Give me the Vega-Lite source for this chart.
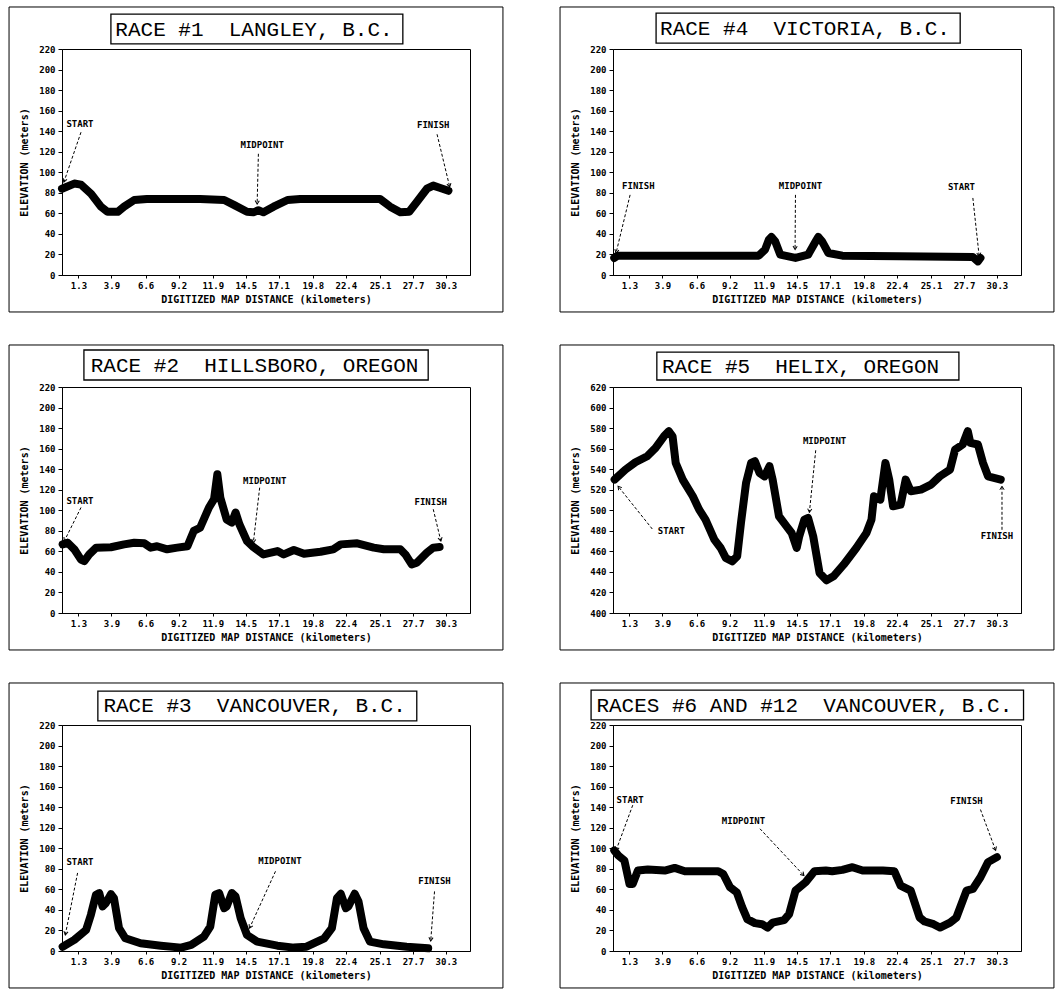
{
"$schema": "https://vega.github.io/schema/vega-lite/v6.json",
"background": "white",
"padding": {"left": 8, "top": 5, "right": 0, "bottom": 3},
"autosize": {"type": "pad"},
"datasets": {
"profile": [
{"race":1,"km":0,"elev":84},{"race":1,"km":0.97,"elev":89},{"race":1,"km":1.5,"elev":88},{"race":1,"km":2.3,"elev":79},{"race":1,"km":3.07,"elev":66.5},{"race":1,"km":3.6,"elev":61.5},{"race":1,"km":4.4,"elev":61.5},{"race":1,"km":4.9,"elev":66.5},{"race":1,"km":5.7,"elev":73},{"race":1,"km":6.7,"elev":74},{"race":1,"km":8.3,"elev":74},{"race":1,"km":10.9,"elev":74},{"race":1,"km":12.8,"elev":73},{"race":1,"km":13.6,"elev":68},{"race":1,"km":14.6,"elev":61.5},{"race":1,"km":15.1,"elev":61},{"race":1,"km":15.5,"elev":63},{"race":1,"km":15.9,"elev":61},{"race":1,"km":16.7,"elev":66.5},{"race":1,"km":17.8,"elev":73},{"race":1,"km":18.8,"elev":74},{"race":1,"km":21.4,"elev":74},{"race":1,"km":25.1,"elev":74},{"race":1,"km":25.9,"elev":66.5},{"race":1,"km":26.7,"elev":61},{"race":1,"km":27.4,"elev":61.5},{"race":1,"km":28.0,"elev":71},{"race":1,"km":28.8,"elev":84},{"race":1,"km":29.3,"elev":87},{"race":1,"km":29.8,"elev":85},{"race":1,"km":30.5,"elev":82},
{"race":4,"km":0.1,"elev":16.6},{"race":4,"km":0.37,"elev":18.8},{"race":4,"km":1.4,"elev":18.8},{"race":4,"km":6.7,"elev":18.8},{"race":4,"km":11.5,"elev":18.8},{"race":4,"km":12.0,"elev":24.7},{"race":4,"km":12.3,"elev":34.4},{"race":4,"km":12.5,"elev":37},{"race":4,"km":12.8,"elev":32.8},{"race":4,"km":13.2,"elev":19.8},{"race":4,"km":14.4,"elev":16.6},{"race":4,"km":15.4,"elev":19.8},{"race":4,"km":16.0,"elev":32.8},{"race":4,"km":16.2,"elev":37},{"race":4,"km":16.5,"elev":32.8},{"race":4,"km":17.0,"elev":21.4},{"race":4,"km":18.1,"elev":18.8},{"race":4,"km":22.6,"elev":18.2},{"race":4,"km":28.4,"elev":17.5},{"race":4,"km":28.8,"elev":13.3},{"race":4,"km":29.0,"elev":16.6},
{"race":2,"km":0.05,"elev":66.8},{"race":2,"km":0.45,"elev":68.4},{"race":2,"km":0.97,"elev":62},{"race":2,"km":1.5,"elev":52},{"race":2,"km":1.76,"elev":50.5},{"race":2,"km":2.15,"elev":57},{"race":2,"km":2.7,"elev":63.6},{"race":2,"km":3.86,"elev":64},{"race":2,"km":4.9,"elev":66.8},{"race":2,"km":5.7,"elev":68.4},{"race":2,"km":6.5,"elev":67.8},{"race":2,"km":7.0,"elev":63.6},{"race":2,"km":7.5,"elev":65},{"race":2,"km":8.3,"elev":62},{"race":2,"km":9.1,"elev":63.6},{"race":2,"km":9.9,"elev":65},{"race":2,"km":10.4,"elev":79.9},{"race":2,"km":10.9,"elev":83},{"race":2,"km":11.6,"elev":102.7},{"race":2,"km":12.0,"elev":110.8},{"race":2,"km":12.26,"elev":135},{"race":2,"km":12.5,"elev":112},{"race":2,"km":13.0,"elev":91},{"race":2,"km":13.4,"elev":88},{"race":2,"km":13.7,"elev":97.8},{"race":2,"km":14.0,"elev":86.4},{"race":2,"km":14.6,"elev":70},{"race":2,"km":15.1,"elev":64.2},{"race":2,"km":15.9,"elev":57},{"race":2,"km":17.0,"elev":60.3},{"race":2,"km":17.5,"elev":57},{"race":2,"km":18.3,"elev":61.3},{"race":2,"km":19.1,"elev":57.7},{"race":2,"km":20.4,"elev":59.6},{"race":2,"km":21.4,"elev":62},{"race":2,"km":22.0,"elev":66.8},{"race":2,"km":23.3,"elev":67.8},{"race":2,"km":24.6,"elev":63.6},{"race":2,"km":25.4,"elev":62},{"race":2,"km":26.7,"elev":62},{"race":2,"km":27.1,"elev":57},{"race":2,"km":27.6,"elev":47.3},{"race":2,"km":28.0,"elev":48.9},{"race":2,"km":28.8,"elev":58.7},{"race":2,"km":29.3,"elev":63.6},{"race":2,"km":29.8,"elev":64.2},
{"race":5,"km":0.13,"elev":529.9},{"race":5,"km":0.98,"elev":539.6},{"race":5,"km":1.77,"elev":546.8},{"race":5,"km":2.7,"elev":552.6},{"race":5,"km":3.36,"elev":560.7},{"race":5,"km":4.02,"elev":572},{"race":5,"km":4.4,"elev":577},{"race":5,"km":4.7,"elev":572},{"race":5,"km":4.95,"elev":546},{"race":5,"km":5.5,"elev":529.9},{"race":5,"km":6.3,"elev":513.6},{"race":5,"km":6.8,"elev":500.6},{"race":5,"km":7.3,"elev":490.9},{"race":5,"km":8.0,"elev":471.4},{"race":5,"km":8.5,"elev":463.3},{"race":5,"km":8.9,"elev":453.6},{"race":5,"km":9.4,"elev":450.3},{"race":5,"km":9.8,"elev":455.2},{"race":5,"km":10.1,"elev":487.7},{"race":5,"km":10.5,"elev":526.6},{"race":5,"km":10.9,"elev":546.1},{"race":5,"km":11.2,"elev":547.7},{"race":5,"km":11.56,"elev":536.4},{"race":5,"km":11.96,"elev":533},{"race":5,"km":12.35,"elev":542.9},{"race":5,"km":12.6,"elev":529.9},{"race":5,"km":13.1,"elev":494.2},{"race":5,"km":13.7,"elev":484.4},{"race":5,"km":14.1,"elev":477.9},{"race":5,"km":14.5,"elev":463.3},{"race":5,"km":14.7,"elev":474.7},{"race":5,"km":15.1,"elev":490.9},{"race":5,"km":15.4,"elev":492.5},{"race":5,"km":15.8,"elev":474.7},{"race":5,"km":16.3,"elev":439},{"race":5,"km":16.85,"elev":431.8},{"race":5,"km":17.4,"elev":435.7},{"race":5,"km":18.2,"elev":447},{"race":5,"km":19.2,"elev":463.3},{"race":5,"km":20.0,"elev":477.9},{"race":5,"km":20.4,"elev":490.9},{"race":5,"km":20.6,"elev":513.6},{"race":5,"km":21.1,"elev":510.4},{"race":5,"km":21.5,"elev":546.1},{"race":5,"km":21.8,"elev":529.9},{"race":5,"km":22.1,"elev":503.9},{"race":5,"km":22.7,"elev":505.5},{"race":5,"km":23.1,"elev":529.9},{"race":5,"km":23.5,"elev":518.5},{"race":5,"km":24.3,"elev":520.1},{"race":5,"km":25.1,"elev":525},{"race":5,"km":25.8,"elev":533.1},{"race":5,"km":26.6,"elev":539.6},{"race":5,"km":27.0,"elev":559.1},{"race":5,"km":27.6,"elev":564},{"race":5,"km":28.0,"elev":577},{"race":5,"km":28.2,"elev":565.6},{"race":5,"km":28.8,"elev":564},{"race":5,"km":29.2,"elev":546.1},{"race":5,"km":29.6,"elev":533.1},{"race":5,"km":30.6,"elev":529.9},
{"race":3,"km":0.05,"elev":4.2},{"race":3,"km":0.97,"elev":10.8},{"race":3,"km":1.9,"elev":20.5},{"race":3,"km":2.28,"elev":35.2},{"race":3,"km":2.68,"elev":54.8},{"race":3,"km":2.94,"elev":56.4},{"race":3,"km":3.2,"elev":43.4},{"race":3,"km":3.46,"elev":46.6},{"race":3,"km":3.86,"elev":55.4},{"race":3,"km":4.1,"elev":51.5},{"race":3,"km":4.5,"elev":22.2},{"race":3,"km":5.0,"elev":12.4},{"race":3,"km":6.2,"elev":7.5},{"race":3,"km":7.8,"elev":5.2},{"race":3,"km":9.4,"elev":3.3},{"race":3,"km":10.2,"elev":5.9},{"race":3,"km":11.2,"elev":14},{"race":3,"km":11.7,"elev":23.8},{"race":3,"km":12.1,"elev":54.8},{"race":3,"km":12.4,"elev":56.4},{"race":3,"km":12.8,"elev":41.7},{"race":3,"km":13.0,"elev":43.4},{"race":3,"km":13.4,"elev":56.4},{"race":3,"km":13.7,"elev":53},{"race":3,"km":14.1,"elev":32},{"race":3,"km":14.6,"elev":15.6},{"race":3,"km":15.4,"elev":9.1},{"race":3,"km":17.0,"elev":5.2},{"race":3,"km":18.3,"elev":3.3},{"race":3,"km":19.3,"elev":4.2},{"race":3,"km":20.7,"elev":12.4},{"race":3,"km":21.3,"elev":22.2},{"race":3,"km":21.7,"elev":51.5},{"race":3,"km":22.0,"elev":55.7},{"race":3,"km":22.4,"elev":41.7},{"race":3,"km":22.6,"elev":43.4},{"race":3,"km":23.1,"elev":55.7},{"race":3,"km":23.4,"elev":48.2},{"race":3,"km":23.8,"elev":22.2},{"race":3,"km":24.3,"elev":9.1},{"race":3,"km":25.4,"elev":6.5},{"race":3,"km":27.2,"elev":4.2},{"race":3,"km":28.9,"elev":2.6},
{"race":6,"km":0.1,"elev":97.9},{"race":6,"km":0.42,"elev":93},{"race":6,"km":0.9,"elev":88.1},{"race":6,"km":1.3,"elev":65.3},{"race":6,"km":1.56,"elev":65.3},{"race":6,"km":1.96,"elev":78.3},{"race":6,"km":2.75,"elev":79.3},{"race":6,"km":4.08,"elev":78.3},{"race":6,"km":4.87,"elev":80.9},{"race":6,"km":5.67,"elev":77.7},{"race":6,"km":8.3,"elev":77.7},{"race":6,"km":8.7,"elev":75},{"race":6,"km":9.24,"elev":62},{"race":6,"km":9.77,"elev":57.1},{"race":6,"km":10.2,"elev":42.4},{"race":6,"km":10.6,"elev":31},{"race":6,"km":11.2,"elev":27.1},{"race":6,"km":11.76,"elev":26.1},{"race":6,"km":12.2,"elev":22.8},{"race":6,"km":12.6,"elev":27.7},{"race":6,"km":13.5,"elev":30},{"race":6,"km":13.9,"elev":35.9},{"race":6,"km":14.4,"elev":58.7},{"race":6,"km":15.2,"elev":66.9},{"race":6,"km":15.9,"elev":77.7},{"race":6,"km":16.8,"elev":78.3},{"race":6,"km":17.3,"elev":77.7},{"race":6,"km":18.1,"elev":79},{"race":6,"km":18.9,"elev":81.6},{"race":6,"km":19.7,"elev":78.3},{"race":6,"km":21.3,"elev":78.3},{"race":6,"km":22.2,"elev":77.7},{"race":6,"km":22.7,"elev":63.6},{"race":6,"km":23.5,"elev":58.7},{"race":6,"km":24.2,"elev":32.6},{"race":6,"km":24.6,"elev":28.7},{"race":6,"km":25.3,"elev":26.1},{"race":6,"km":25.8,"elev":22.8},{"race":6,"km":26.6,"elev":27.7},{"race":6,"km":27.1,"elev":32.6},{"race":6,"km":27.9,"elev":58.7},{"race":6,"km":28.4,"elev":60.4},{"race":6,"km":29.0,"elev":71.8},{"race":6,"km":29.6,"elev":86.5},{"race":6,"km":30.3,"elev":91.4}
],
"ann": [
{"race":1,"label":"START","tx":1.42,"ty":147,"x1":1.5,"y1":139,"x2":0.15,"y2":90.5},
{"race":1,"label":"MIDPOINT","tx":15.8,"ty":126.6,"x1":15.5,"y1":118,"x2":15.4,"y2":69},
{"race":1,"label":"FINISH","tx":29.3,"ty":146,"x1":29.6,"y1":137,"x2":30.6,"y2":85.7},
{"race":4,"label":"FINISH","tx":2.0,"ty":86.4,"x1":1.35,"y1":78,"x2":0.24,"y2":21.4},
{"race":4,"label":"MIDPOINT","tx":14.8,"ty":86.4,"x1":14.4,"y1":78,"x2":14.37,"y2":24.7},
{"race":4,"label":"START","tx":27.5,"ty":85.7,"x1":28.4,"y1":75,"x2":28.9,"y2":18.2},
{"race":2,"label":"START","tx":1.42,"ty":109,"x1":1.5,"y1":102.7,"x2":0.18,"y2":70},
{"race":2,"label":"MIDPOINT","tx":16.0,"ty":128.7,"x1":15.6,"y1":122,"x2":15.1,"y2":68.4},
{"race":2,"label":"FINISH","tx":29.1,"ty":107.6,"x1":29.3,"y1":101,"x2":29.9,"y2":70},
{"race":5,"label":"START","tx":4.6,"ty":479.5,"x1":3.1,"y1":481.8,"x2":0.4,"y2":523.4},
{"race":5,"label":"MIDPOINT","tx":16.7,"ty":567.2,"x1":16.0,"y1":558.4,"x2":15.5,"y2":498},
{"race":5,"label":"FINISH","tx":30.3,"ty":475.3,"x1":30.7,"y1":481,"x2":30.7,"y2":523.4},
{"race":3,"label":"START","tx":1.42,"ty":86.4,"x1":1.23,"y1":76,"x2":0.26,"y2":15.6},
{"race":3,"label":"MIDPOINT","tx":17.2,"ty":87.4,"x1":16.85,"y1":77.6,"x2":14.8,"y2":22.2},
{"race":3,"label":"FINISH","tx":29.4,"ty":67.8,"x1":29.4,"y1":58,"x2":29.1,"y2":9.8},
{"race":6,"label":"START","tx":1.35,"ty":146.9,"x1":1.56,"y1":142,"x2":0.24,"y2":97.9},
{"race":6,"label":"MIDPOINT","tx":10.3,"ty":126.6,"x1":11.6,"y1":119,"x2":15.07,"y2":73.4},
{"race":6,"label":"FINISH","tx":27.9,"ty":146.2,"x1":29.0,"y1":137.7,"x2":30.2,"y2":97.9}
]
},
"columns": 2,
"bounds": "flush",
"spacing": {"row": 112, "column": 143},
"concat": [
{
"width": 408, "height": 226,
"data": {"name": "profile"},
"transform": [{"filter": "datum.race == 1"}],
"layer": [
{"data": {"values": [{}]}, "mark": {"type": "rect", "fillOpacity": 0, "stroke": "black", "strokeWidth": 1},
 "encoding": {"x": {"datum": -4.18, "type": "quantitative", "scale": {"domain": [0, 32.2], "nice": false}}, "x2": {"datum": 34.8}, "y": {"datum": -36, "type": "quantitative", "scale": {"domain": [0, 220], "nice": false}}, "y2": {"datum": 260.9}}},
{"data": {"values": [{}]}, "mark": {"type": "rect", "fillOpacity": 0, "stroke": "black", "strokeWidth": 1.3},
 "encoding": {"x": {"datum": 3.86, "type": "quantitative", "scale": {"domain": [0, 32.2], "nice": false}}, "x2": {"datum": 26.9}, "y": {"datum": 224.9, "type": "quantitative", "scale": {"domain": [0, 220], "nice": false}}, "y2": {"datum": 254}}},
{"data": {"values": [{"t": "RACE #1\u00a0\u00a0LANGLEY, B.C."}]}, "mark": {"type": "text", "font": "Liberation Mono", "fontSize": 21, "color": "black", "align": "center", "baseline": "alphabetic"},
 "encoding": {"x": {"datum": 15.15, "type": "quantitative", "scale": {"domain": [0, 32.2], "nice": false}}, "y": {"datum": 232.7, "type": "quantitative", "scale": {"domain": [0, 220], "nice": false}}, "text": {"field": "t"}}},
{"mark": {"type": "line", "color": "black", "strokeWidth": 8, "strokeCap": "round", "strokeJoin": "round"},
 "encoding": {
  "x": {"field": "km", "type": "quantitative", "scale": {"domain": [0, 32.2], "nice": false}, "axis": {"title": "DIGITIZED MAP DISTANCE (kilometers)", "values": [1.3,3.9,6.6,9.2,11.9,14.5,17.1,19.8,22.4,25.1,27.7,30.3], "tickCount": 40, "format": ".1f", "labelOverlap": false, "labelFlush": false, "tickSize": 3, "labelPadding": 3, "titlePadding": 4}},
  "y": {"field": "elev", "type": "quantitative", "scale": {"domain": [0, 220], "nice": false, "zero": false}, "axis": {"title": "ELEVATION (meters)", "values": [0,20,40,60,80,100,120,140,160,180,200,220], "tickCount": 40, "labelOverlap": false, "tickSize": 4, "labelPadding": 3, "titlePadding": 9}}}},
{"data": {"name": "ann"}, "transform": [{"filter": "datum.race == 1"}],
 "mark": {"type": "rule", "color": "black", "strokeWidth": 1, "strokeDash": [3, 2]},
 "encoding": {"x": {"field": "x1", "type": "quantitative"}, "y": {"field": "y1", "type": "quantitative"}, "x2": {"field": "x2"}, "y2": {"field": "y2"}}},
{"data": {"name": "ann"}, "transform": [{"filter": "datum.race == 1"}, {"calculate": "atan2(-(datum.x2-datum.x1)*12.67, -(datum.y2-datum.y1)*1.027)*180/PI", "as": "ang"}],
 "mark": {"type": "point", "shape": "M-0.6,-1L0,0L0.6,-1", "filled": false, "stroke": "black", "strokeWidth": 1, "size": 49, "opacity": 1},
 "encoding": {"x": {"field": "x2", "type": "quantitative"}, "y": {"field": "y2", "type": "quantitative"}, "angle": {"field": "ang", "type": "quantitative", "scale": null}}},
{"data": {"name": "ann"}, "transform": [{"filter": "datum.race == 1"}],
 "mark": {"type": "text", "font": "DejaVu Sans Mono", "fontWeight": "bold", "fontSize": 9, "color": "black", "baseline": "middle", "align": "center"},
 "encoding": {"x": {"field": "tx", "type": "quantitative"}, "y": {"field": "ty", "type": "quantitative"}, "text": {"field": "label"}}}
]
},
{
"width": 408, "height": 226,
"data": {"name": "profile"},
"transform": [{"filter": "datum.race == 4"}],
"layer": [
{"data": {"values": [{}]}, "mark": {"type": "rect", "fillOpacity": 0, "stroke": "black", "strokeWidth": 1},
 "encoding": {"x": {"datum": -4.18, "type": "quantitative", "scale": {"domain": [0, 32.2], "nice": false}}, "x2": {"datum": 34.8}, "y": {"datum": -36, "type": "quantitative", "scale": {"domain": [0, 220], "nice": false}}, "y2": {"datum": 260.9}}},
{"data": {"values": [{}]}, "mark": {"type": "rect", "fillOpacity": 0, "stroke": "black", "strokeWidth": 1.3},
 "encoding": {"x": {"datum": 3.4, "type": "quantitative", "scale": {"domain": [0, 32.2], "nice": false}}, "x2": {"datum": 27.4}, "y": {"datum": 225.8, "type": "quantitative", "scale": {"domain": [0, 220], "nice": false}}, "y2": {"datum": 255}}},
{"data": {"values": [{"t": "RACE #4\u00a0\u00a0VICTORIA, B.C."}]}, "mark": {"type": "text", "font": "Liberation Mono", "fontSize": 21, "color": "black", "align": "center", "baseline": "alphabetic"},
 "encoding": {"x": {"datum": 15.15, "type": "quantitative", "scale": {"domain": [0, 32.2], "nice": false}}, "y": {"datum": 233.2, "type": "quantitative", "scale": {"domain": [0, 220], "nice": false}}, "text": {"field": "t"}}},
{"mark": {"type": "line", "color": "black", "strokeWidth": 8, "strokeCap": "round", "strokeJoin": "round"},
 "encoding": {
  "x": {"field": "km", "type": "quantitative", "scale": {"domain": [0, 32.2], "nice": false}, "axis": {"title": "DIGITIZED MAP DISTANCE (kilometers)", "values": [1.3,3.9,6.6,9.2,11.9,14.5,17.1,19.8,22.4,25.1,27.7,30.3], "tickCount": 40, "format": ".1f", "labelOverlap": false, "labelFlush": false, "tickSize": 3, "labelPadding": 3, "titlePadding": 4}},
  "y": {"field": "elev", "type": "quantitative", "scale": {"domain": [0, 220], "nice": false, "zero": false}, "axis": {"title": "ELEVATION (meters)", "values": [0,20,40,60,80,100,120,140,160,180,200,220], "tickCount": 40, "labelOverlap": false, "tickSize": 4, "labelPadding": 3, "titlePadding": 9}}}},
{"data": {"name": "ann"}, "transform": [{"filter": "datum.race == 4"}],
 "mark": {"type": "rule", "color": "black", "strokeWidth": 1, "strokeDash": [3, 2]},
 "encoding": {"x": {"field": "x1", "type": "quantitative"}, "y": {"field": "y1", "type": "quantitative"}, "x2": {"field": "x2"}, "y2": {"field": "y2"}}},
{"data": {"name": "ann"}, "transform": [{"filter": "datum.race == 4"}, {"calculate": "atan2(-(datum.x2-datum.x1)*12.67, -(datum.y2-datum.y1)*1.027)*180/PI", "as": "ang"}],
 "mark": {"type": "point", "shape": "M-0.6,-1L0,0L0.6,-1", "filled": false, "stroke": "black", "strokeWidth": 1, "size": 49, "opacity": 1},
 "encoding": {"x": {"field": "x2", "type": "quantitative"}, "y": {"field": "y2", "type": "quantitative"}, "angle": {"field": "ang", "type": "quantitative", "scale": null}}},
{"data": {"name": "ann"}, "transform": [{"filter": "datum.race == 4"}],
 "mark": {"type": "text", "font": "DejaVu Sans Mono", "fontWeight": "bold", "fontSize": 9, "color": "black", "baseline": "middle", "align": "center"},
 "encoding": {"x": {"field": "tx", "type": "quantitative"}, "y": {"field": "ty", "type": "quantitative"}, "text": {"field": "label"}}}
]
},
{
"width": 408, "height": 226,
"data": {"name": "profile"},
"transform": [{"filter": "datum.race == 2"}],
"layer": [
{"data": {"values": [{}]}, "mark": {"type": "rect", "fillOpacity": 0, "stroke": "black", "strokeWidth": 1},
 "encoding": {"x": {"datum": -4.18, "type": "quantitative", "scale": {"domain": [0, 32.2], "nice": false}}, "x2": {"datum": 34.8}, "y": {"datum": -36, "type": "quantitative", "scale": {"domain": [0, 220], "nice": false}}, "y2": {"datum": 260.9}}},
{"data": {"values": [{}]}, "mark": {"type": "rect", "fillOpacity": 0, "stroke": "black", "strokeWidth": 1.3},
 "encoding": {"x": {"datum": 1.73, "type": "quantitative", "scale": {"domain": [0, 32.2], "nice": false}}, "x2": {"datum": 28.9}, "y": {"datum": 226.8, "type": "quantitative", "scale": {"domain": [0, 220], "nice": false}}, "y2": {"datum": 256}}},
{"data": {"values": [{"t": "RACE #2\u00a0\u00a0HILLSBORO, OREGON"}]}, "mark": {"type": "text", "font": "Liberation Mono", "fontSize": 21, "color": "black", "align": "center", "baseline": "alphabetic"},
 "encoding": {"x": {"datum": 15.2, "type": "quantitative", "scale": {"domain": [0, 32.2], "nice": false}}, "y": {"datum": 234.6, "type": "quantitative", "scale": {"domain": [0, 220], "nice": false}}, "text": {"field": "t"}}},
{"mark": {"type": "line", "color": "black", "strokeWidth": 8, "strokeCap": "round", "strokeJoin": "round"},
 "encoding": {
  "x": {"field": "km", "type": "quantitative", "scale": {"domain": [0, 32.2], "nice": false}, "axis": {"title": "DIGITIZED MAP DISTANCE (kilometers)", "values": [1.3,3.9,6.6,9.2,11.9,14.5,17.1,19.8,22.4,25.1,27.7,30.3], "tickCount": 40, "format": ".1f", "labelOverlap": false, "labelFlush": false, "tickSize": 3, "labelPadding": 3, "titlePadding": 4}},
  "y": {"field": "elev", "type": "quantitative", "scale": {"domain": [0, 220], "nice": false, "zero": false}, "axis": {"title": "ELEVATION (meters)", "values": [0,20,40,60,80,100,120,140,160,180,200,220], "tickCount": 40, "labelOverlap": false, "tickSize": 4, "labelPadding": 3, "titlePadding": 9}}}},
{"data": {"name": "ann"}, "transform": [{"filter": "datum.race == 2"}],
 "mark": {"type": "rule", "color": "black", "strokeWidth": 1, "strokeDash": [3, 2]},
 "encoding": {"x": {"field": "x1", "type": "quantitative"}, "y": {"field": "y1", "type": "quantitative"}, "x2": {"field": "x2"}, "y2": {"field": "y2"}}},
{"data": {"name": "ann"}, "transform": [{"filter": "datum.race == 2"}, {"calculate": "atan2(-(datum.x2-datum.x1)*12.67, -(datum.y2-datum.y1)*1.027)*180/PI", "as": "ang"}],
 "mark": {"type": "point", "shape": "M-0.6,-1L0,0L0.6,-1", "filled": false, "stroke": "black", "strokeWidth": 1, "size": 49, "opacity": 1},
 "encoding": {"x": {"field": "x2", "type": "quantitative"}, "y": {"field": "y2", "type": "quantitative"}, "angle": {"field": "ang", "type": "quantitative", "scale": null}}},
{"data": {"name": "ann"}, "transform": [{"filter": "datum.race == 2"}],
 "mark": {"type": "text", "font": "DejaVu Sans Mono", "fontWeight": "bold", "fontSize": 9, "color": "black", "baseline": "middle", "align": "center"},
 "encoding": {"x": {"field": "tx", "type": "quantitative"}, "y": {"field": "ty", "type": "quantitative"}, "text": {"field": "label"}}}
]
},
{
"width": 408, "height": 226,
"data": {"name": "profile"},
"transform": [{"filter": "datum.race == 5"}],
"layer": [
{"data": {"values": [{}]}, "mark": {"type": "rect", "fillOpacity": 0, "stroke": "black", "strokeWidth": 1},
 "encoding": {"x": {"datum": -4.18, "type": "quantitative", "scale": {"domain": [0, 32.2], "nice": false}}, "x2": {"datum": 34.8}, "y": {"datum": 364, "type": "quantitative", "scale": {"domain": [400, 620], "nice": false, "zero": false}}, "y2": {"datum": 660.9}}},
{"data": {"values": [{}]}, "mark": {"type": "rect", "fillOpacity": 0, "stroke": "black", "strokeWidth": 1.3},
 "encoding": {"x": {"datum": 3.46, "type": "quantitative", "scale": {"domain": [0, 32.2], "nice": false}}, "x2": {"datum": 27.3}, "y": {"datum": 626.8, "type": "quantitative", "scale": {"domain": [400, 620], "nice": false, "zero": false}}, "y2": {"datum": 654}}},
{"data": {"values": [{"t": "RACE #5\u00a0\u00a0HELIX, OREGON"}]}, "mark": {"type": "text", "font": "Liberation Mono", "fontSize": 21, "color": "black", "align": "center", "baseline": "alphabetic"},
 "encoding": {"x": {"datum": 14.8, "type": "quantitative", "scale": {"domain": [0, 32.2], "nice": false}}, "y": {"datum": 633.6, "type": "quantitative", "scale": {"domain": [400, 620], "nice": false, "zero": false}}, "text": {"field": "t"}}},
{"mark": {"type": "line", "color": "black", "strokeWidth": 8, "strokeCap": "round", "strokeJoin": "round"},
 "encoding": {
  "x": {"field": "km", "type": "quantitative", "scale": {"domain": [0, 32.2], "nice": false}, "axis": {"title": "DIGITIZED MAP DISTANCE (kilometers)", "values": [1.3,3.9,6.6,9.2,11.9,14.5,17.1,19.8,22.4,25.1,27.7,30.3], "tickCount": 40, "format": ".1f", "labelOverlap": false, "labelFlush": false, "tickSize": 3, "labelPadding": 3, "titlePadding": 4}},
  "y": {"field": "elev", "type": "quantitative", "scale": {"domain": [400, 620], "nice": false, "zero": false}, "axis": {"title": "ELEVATION (meters)", "values": [400,420,440,460,480,500,520,540,560,580,600,620], "tickCount": 40, "labelOverlap": false, "tickSize": 4, "labelPadding": 3, "titlePadding": 9}}}},
{"data": {"name": "ann"}, "transform": [{"filter": "datum.race == 5"}],
 "mark": {"type": "rule", "color": "black", "strokeWidth": 1, "strokeDash": [3, 2]},
 "encoding": {"x": {"field": "x1", "type": "quantitative"}, "y": {"field": "y1", "type": "quantitative"}, "x2": {"field": "x2"}, "y2": {"field": "y2"}}},
{"data": {"name": "ann"}, "transform": [{"filter": "datum.race == 5"}, {"calculate": "atan2(-(datum.x2-datum.x1)*12.67, -(datum.y2-datum.y1)*1.027)*180/PI", "as": "ang"}],
 "mark": {"type": "point", "shape": "M-0.6,-1L0,0L0.6,-1", "filled": false, "stroke": "black", "strokeWidth": 1, "size": 49, "opacity": 1},
 "encoding": {"x": {"field": "x2", "type": "quantitative"}, "y": {"field": "y2", "type": "quantitative"}, "angle": {"field": "ang", "type": "quantitative", "scale": null}}},
{"data": {"name": "ann"}, "transform": [{"filter": "datum.race == 5"}],
 "mark": {"type": "text", "font": "DejaVu Sans Mono", "fontWeight": "bold", "fontSize": 9, "color": "black", "baseline": "middle", "align": "center"},
 "encoding": {"x": {"field": "tx", "type": "quantitative"}, "y": {"field": "ty", "type": "quantitative"}, "text": {"field": "label"}}}
]
},
{
"width": 408, "height": 226,
"data": {"name": "profile"},
"transform": [{"filter": "datum.race == 3"}],
"layer": [
{"data": {"values": [{}]}, "mark": {"type": "rect", "fillOpacity": 0, "stroke": "black", "strokeWidth": 1},
 "encoding": {"x": {"datum": -4.18, "type": "quantitative", "scale": {"domain": [0, 32.2], "nice": false}}, "x2": {"datum": 34.8}, "y": {"datum": -36, "type": "quantitative", "scale": {"domain": [0, 220], "nice": false}}, "y2": {"datum": 260.9}}},
{"data": {"values": [{}]}, "mark": {"type": "rect", "fillOpacity": 0, "stroke": "black", "strokeWidth": 1.3},
 "encoding": {"x": {"datum": 2.83, "type": "quantitative", "scale": {"domain": [0, 32.2], "nice": false}}, "x2": {"datum": 28.0}, "y": {"datum": 224, "type": "quantitative", "scale": {"domain": [0, 220], "nice": false}}, "y2": {"datum": 253}}},
{"data": {"values": [{"t": "RACE #3\u00a0\u00a0VANCOUVER, B.C."}]}, "mark": {"type": "text", "font": "Liberation Mono", "fontSize": 21, "color": "black", "align": "center", "baseline": "alphabetic"},
 "encoding": {"x": {"datum": 15.2, "type": "quantitative", "scale": {"domain": [0, 32.2], "nice": false}}, "y": {"datum": 232.7, "type": "quantitative", "scale": {"domain": [0, 220], "nice": false}}, "text": {"field": "t"}}},
{"mark": {"type": "line", "color": "black", "strokeWidth": 8, "strokeCap": "round", "strokeJoin": "round"},
 "encoding": {
  "x": {"field": "km", "type": "quantitative", "scale": {"domain": [0, 32.2], "nice": false}, "axis": {"title": "DIGITIZED MAP DISTANCE (kilometers)", "values": [1.3,3.9,6.6,9.2,11.9,14.5,17.1,19.8,22.4,25.1,27.7,30.3], "tickCount": 40, "format": ".1f", "labelOverlap": false, "labelFlush": false, "tickSize": 3, "labelPadding": 3, "titlePadding": 4}},
  "y": {"field": "elev", "type": "quantitative", "scale": {"domain": [0, 220], "nice": false, "zero": false}, "axis": {"title": "ELEVATION (meters)", "values": [0,20,40,60,80,100,120,140,160,180,200,220], "tickCount": 40, "labelOverlap": false, "tickSize": 4, "labelPadding": 3, "titlePadding": 9}}}},
{"data": {"name": "ann"}, "transform": [{"filter": "datum.race == 3"}],
 "mark": {"type": "rule", "color": "black", "strokeWidth": 1, "strokeDash": [3, 2]},
 "encoding": {"x": {"field": "x1", "type": "quantitative"}, "y": {"field": "y1", "type": "quantitative"}, "x2": {"field": "x2"}, "y2": {"field": "y2"}}},
{"data": {"name": "ann"}, "transform": [{"filter": "datum.race == 3"}, {"calculate": "atan2(-(datum.x2-datum.x1)*12.67, -(datum.y2-datum.y1)*1.027)*180/PI", "as": "ang"}],
 "mark": {"type": "point", "shape": "M-0.6,-1L0,0L0.6,-1", "filled": false, "stroke": "black", "strokeWidth": 1, "size": 49, "opacity": 1},
 "encoding": {"x": {"field": "x2", "type": "quantitative"}, "y": {"field": "y2", "type": "quantitative"}, "angle": {"field": "ang", "type": "quantitative", "scale": null}}},
{"data": {"name": "ann"}, "transform": [{"filter": "datum.race == 3"}],
 "mark": {"type": "text", "font": "DejaVu Sans Mono", "fontWeight": "bold", "fontSize": 9, "color": "black", "baseline": "middle", "align": "center"},
 "encoding": {"x": {"field": "tx", "type": "quantitative"}, "y": {"field": "ty", "type": "quantitative"}, "text": {"field": "label"}}}
]
},
{
"width": 408, "height": 226,
"data": {"name": "profile"},
"transform": [{"filter": "datum.race == 6"}],
"layer": [
{"data": {"values": [{}]}, "mark": {"type": "rect", "fillOpacity": 0, "stroke": "black", "strokeWidth": 1},
 "encoding": {"x": {"datum": -4.18, "type": "quantitative", "scale": {"domain": [0, 32.2], "nice": false}}, "x2": {"datum": 34.8}, "y": {"datum": -36, "type": "quantitative", "scale": {"domain": [0, 220], "nice": false}}, "y2": {"datum": 260.9}}},
{"data": {"values": [{}]}, "mark": {"type": "rect", "fillOpacity": 0, "stroke": "black", "strokeWidth": 1.3},
 "encoding": {"x": {"datum": -1.73, "type": "quantitative", "scale": {"domain": [0, 32.2], "nice": false}}, "x2": {"datum": 32.4}, "y": {"datum": 225, "type": "quantitative", "scale": {"domain": [0, 220], "nice": false}}, "y2": {"datum": 254}}},
{"data": {"values": [{"t": "RACES #6 AND #12\u00a0\u00a0VANCOUVER, B.C."}]}, "mark": {"type": "text", "font": "Liberation Mono", "fontSize": 21, "color": "black", "align": "center", "baseline": "alphabetic"},
 "encoding": {"x": {"datum": 15.1, "type": "quantitative", "scale": {"domain": [0, 32.2], "nice": false}}, "y": {"datum": 232.7, "type": "quantitative", "scale": {"domain": [0, 220], "nice": false}}, "text": {"field": "t"}}},
{"mark": {"type": "line", "color": "black", "strokeWidth": 8, "strokeCap": "round", "strokeJoin": "round"},
 "encoding": {
  "x": {"field": "km", "type": "quantitative", "scale": {"domain": [0, 32.2], "nice": false}, "axis": {"title": "DIGITIZED MAP DISTANCE (kilometers)", "values": [1.3,3.9,6.6,9.2,11.9,14.5,17.1,19.8,22.4,25.1,27.7,30.3], "tickCount": 40, "format": ".1f", "labelOverlap": false, "labelFlush": false, "tickSize": 3, "labelPadding": 3, "titlePadding": 4}},
  "y": {"field": "elev", "type": "quantitative", "scale": {"domain": [0, 220], "nice": false, "zero": false}, "axis": {"title": "ELEVATION (meters)", "values": [0,20,40,60,80,100,120,140,160,180,200,220], "tickCount": 40, "labelOverlap": false, "tickSize": 4, "labelPadding": 3, "titlePadding": 9}}}},
{"data": {"name": "ann"}, "transform": [{"filter": "datum.race == 6"}],
 "mark": {"type": "rule", "color": "black", "strokeWidth": 1, "strokeDash": [3, 2]},
 "encoding": {"x": {"field": "x1", "type": "quantitative"}, "y": {"field": "y1", "type": "quantitative"}, "x2": {"field": "x2"}, "y2": {"field": "y2"}}},
{"data": {"name": "ann"}, "transform": [{"filter": "datum.race == 6"}, {"calculate": "atan2(-(datum.x2-datum.x1)*12.67, -(datum.y2-datum.y1)*1.027)*180/PI", "as": "ang"}],
 "mark": {"type": "point", "shape": "M-0.6,-1L0,0L0.6,-1", "filled": false, "stroke": "black", "strokeWidth": 1, "size": 49, "opacity": 1},
 "encoding": {"x": {"field": "x2", "type": "quantitative"}, "y": {"field": "y2", "type": "quantitative"}, "angle": {"field": "ang", "type": "quantitative", "scale": null}}},
{"data": {"name": "ann"}, "transform": [{"filter": "datum.race == 6"}],
 "mark": {"type": "text", "font": "DejaVu Sans Mono", "fontWeight": "bold", "fontSize": 9, "color": "black", "baseline": "middle", "align": "center"},
 "encoding": {"x": {"field": "tx", "type": "quantitative"}, "y": {"field": "ty", "type": "quantitative"}, "text": {"field": "label"}}}
]
}
],
"config": {
"view": {"stroke": "black", "strokeWidth": 1},
"axis": {"grid": false, "labelOverlap": false, "tickCount": 40, "domainColor": "black", "domainWidth": 1, "tickColor": "black", "labelColor": "black", "labelFont": "DejaVu Sans Mono", "labelFontWeight": "bold", "labelFontSize": 9, "titleColor": "black", "titleFont": "DejaVu Sans Mono", "titleFontWeight": "bold", "titleFontSize": 10}
}
}
